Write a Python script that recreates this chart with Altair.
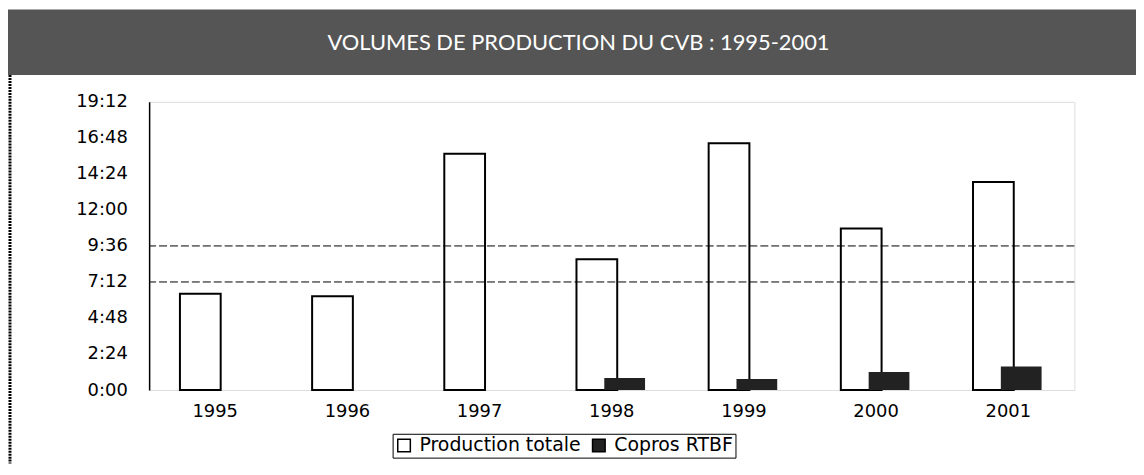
import altair as alt
import pandas as pd

years = ["1995", "1996", "1997", "1998", "1999", "2000", "2001"]
# hours (decimal)
production_totale = [6.42, 6.25, 15.74, 8.72, 16.44, 10.77, 13.86]
copros_rtbf = [0.0, 0.0, 0.0, 0.80, 0.73, 1.20, 1.57]
series_names = ["Production totale", "Copros RTBF"]
y_ticks = [0, 2.4, 4.8, 7.2, 9.6, 12.0, 14.4, 16.8, 19.2]
grid_values = [7.2, 9.6]
title_text = "VOLUMES DE PRODUCTION DU CVB : 1995-2001"

rows = []
for y, t, c in zip(years, production_totale, copros_rtbf):
    rows.append({"year": y, "series": series_names[0], "hours": t})
    rows.append({"year": y, "series": series_names[1], "hours": c})
df = pd.DataFrame(rows)

W, H = 931, 290
FONT = "DejaVu Sans"

y_axis = alt.Axis(title=None, values=y_ticks, grid=False, ticks=False,
                  domain=True, domainColor="black", domainWidth=1.5,
                  labelFont=FONT, labelFontSize=18, labelColor="black",
                  labelPadding=22, labelOverlap=False, labelFlush=False,
                  labelExpr="floor(datum.value) + ':' + (round(datum.value*60)%60 < 10 ? '0' : '') + (round(datum.value*60)%60)")
x_enc = alt.X("year:N", sort=years,
              scale=alt.Scale(paddingInner=0, paddingOuter=0),
              axis=alt.Axis(title=None, labelAngle=0, ticks=False, domain=False,
                            labelFont=FONT, labelFontSize=18, labelColor="black",
                            labelPadding=13))
y_enc = alt.Y("hours:Q", scale=alt.Scale(domain=[0, 19.2], nice=False), axis=y_axis)
fill_enc = alt.Fill("series:N",
                    scale=alt.Scale(domain=series_names, range=["white", "#222222"]),
                    legend=alt.Legend(orient="none", legendX=245, legendY=334,
                                      direction="horizontal", columns=2, title=None,
                                      symbolType="square", symbolSize=160,
                                      symbolStrokeColor="black", symbolStrokeWidth=1.5,
                                      labelFont=FONT, labelFontSize=19, labelColor="black",
                                      labelLimit=400, strokeColor="black",
                                      padding=2, columnPadding=8, labelOffset=6))

base = alt.Chart(df)

total_bars = base.transform_filter(alt.datum.series == series_names[0]).mark_bar(
    width=41, xOffset=-15, stroke="black", strokeWidth=2
).encode(x=x_enc, y=y_enc, fill=fill_enc)

grid = alt.Chart(pd.DataFrame({"hours": grid_values})).mark_rule(
    color="black", strokeWidth=1, strokeDash=[8, 3]
).encode(y=y_enc)

copro_bars = base.transform_filter(alt.datum.series == series_names[1]).mark_bar(
    width=41, xOffset=13
).encode(x=x_enc, y=y_enc, fill=fill_enc)

one = pd.DataFrame({"a": [0]})
title_bg = alt.Chart(one).mark_rect(color="#555555").encode(
    x=alt.value(-142), x2=alt.value(993), y=alt.value(-93), y2=alt.value(-27))
title_txt = alt.Chart(one).mark_text(
    text=title_text, font="Lato", fontSize=22, color="white", align="center", baseline="middle"
).encode(x=alt.value(432), y=alt.value(-59))
left_frame = alt.Chart(one).mark_rule(color="black", strokeWidth=3, strokeDash=[2, 1]).encode(
    x=alt.value(-140), y=alt.value(-27), y2=alt.value(364))

chart = alt.layer(total_bars, grid, copro_bars, title_bg, title_txt, left_frame).resolve_scale(
    y="shared"
).properties(
    width=W, height=H, padding=0
).configure_view(
    stroke="#222222", strokeDash=[2, 2], strokeWidth=1
).configure_axis(
    labelOverlap=False
).configure(background="white")

chart.save("out.html", embed_options={"renderer": "svg", "actions": False})
